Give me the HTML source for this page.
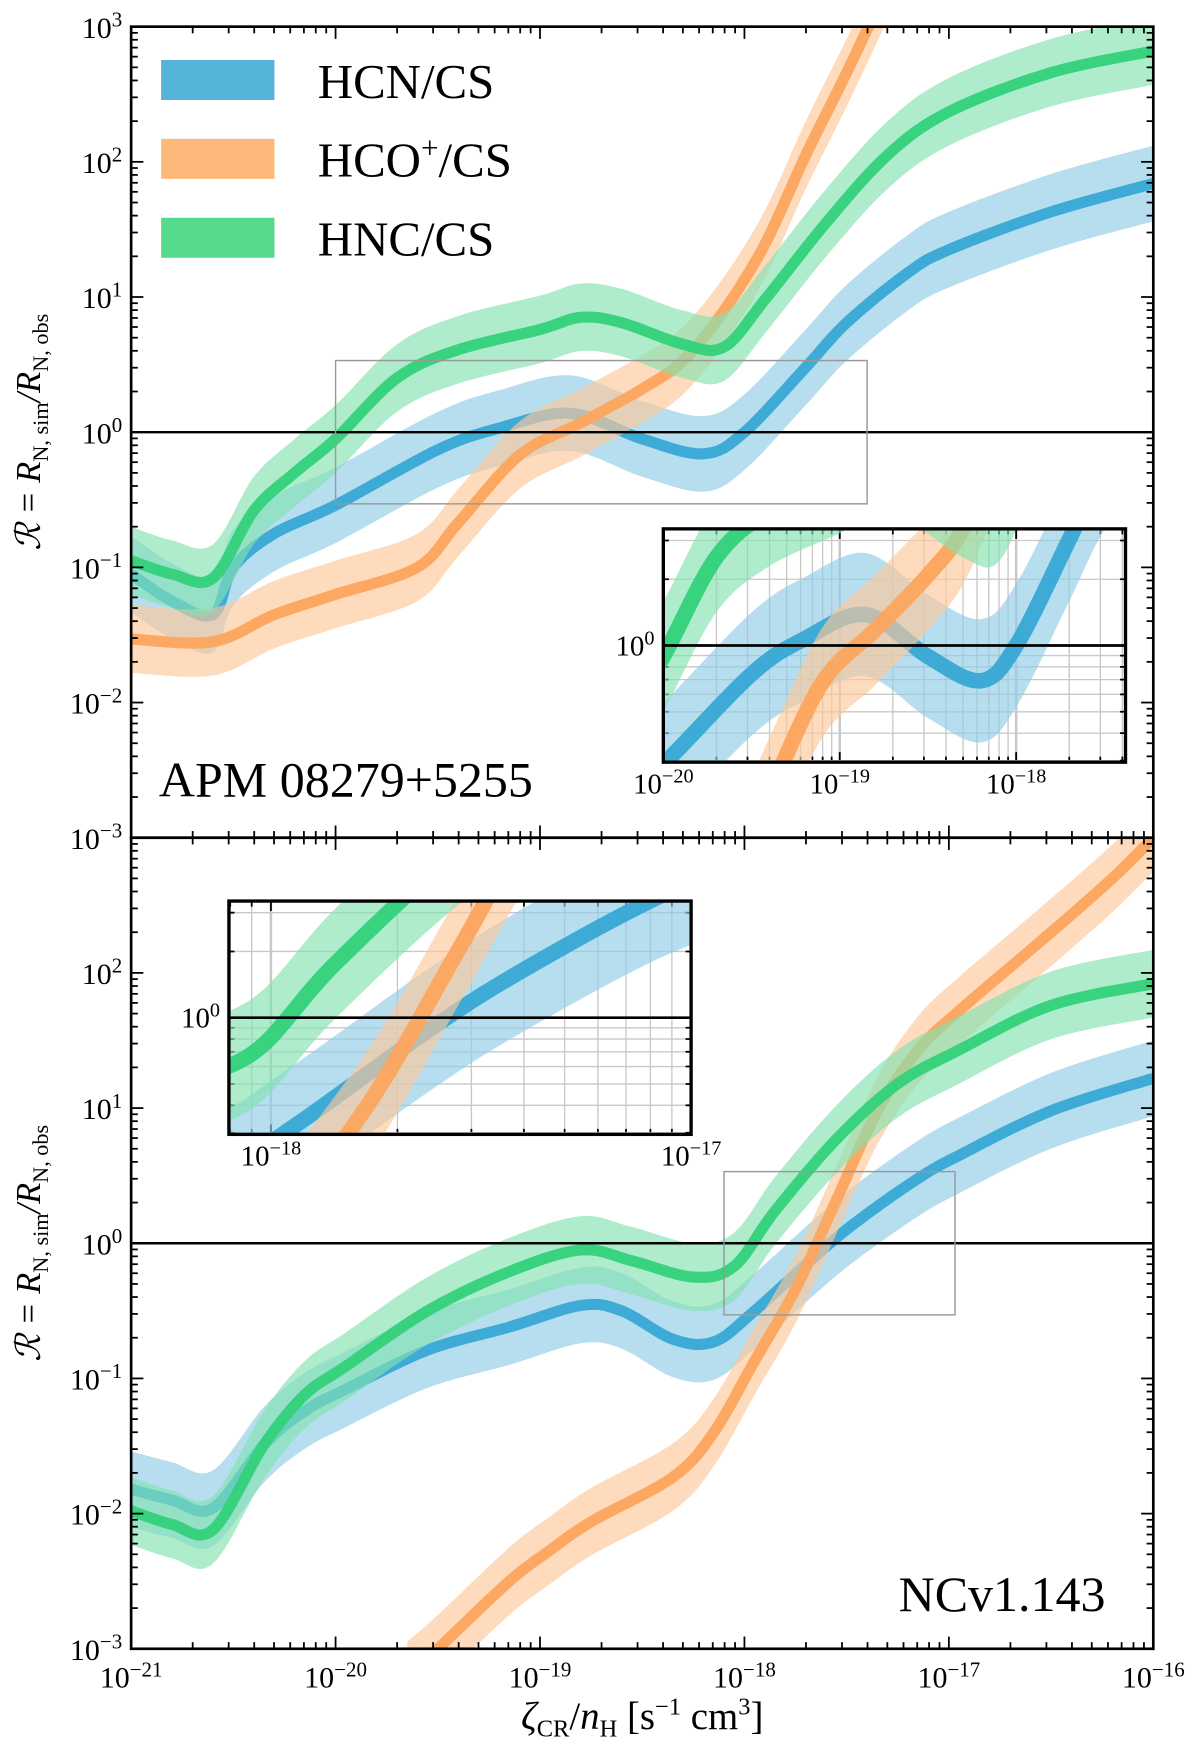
<!DOCTYPE html>
<html><head><meta charset="utf-8"><style>
html,body{margin:0;padding:0;background:#fff}
svg{display:block}
text{font-family:"Liberation Serif","DejaVu Serif",serif;fill:#000}
</style></head><body>
<svg id="fig" width="1200" height="1741" viewBox="0 0 1080 1567" xmlns="http://www.w3.org/2000/svg">
<defs>
<clipPath id="cTop"><rect x="118" y="24" width="920" height="730"/></clipPath>
<clipPath id="cBot"><rect x="118" y="754" width="920" height="730"/></clipPath>
<clipPath id="cIn1"><rect x="597" y="476" width="416" height="210"/></clipPath>
<clipPath id="cIn2"><rect x="206" y="811" width="416" height="210"/></clipPath>
</defs>
<g id="root"></g>
</svg>
<script>
// ---- data (log10 of zeta/nH and log10 of ratio) ----
const topX_hcn = [-21,-20.8,-20.6,-20.5,-20.3,-20,-19.5,-19.2,-18.85,-18.5,-18.2,-18,-17.7,-17.5,-17.2,-17,-16.5,-16];
const topY_hcn = [-1.05,-1.25,-1.35,-1.0,-0.75,-0.54,-0.13,0.03,0.14,-0.05,-0.16,0,0.48,0.81,1.18,1.35,1.63,1.84];
const topX_hco = [-21,-20.6,-20.3,-20,-19.6,-19.4,-19.1,-18.8,-18.5,-18.3,-18.1,-17.9,-17.7,-17.5,-17.3];
const topY_hco = [-1.53,-1.55,-1.35,-1.2,-1.0,-0.67,-0.17,0.07,0.32,0.53,0.9,1.39,2.05,2.66,3.3];
const topX_hnc = [-21,-20.8,-20.6,-20.4,-20.2,-20,-19.7,-19.4,-19,-18.8,-18.6,-18.3,-18.1,-17.9,-17.6,-17.3,-17,-16.5,-16];
const topY_hnc = [-0.95,-1.05,-1.08,-0.58,-0.3,-0.05,0.4,0.61,0.76,0.85,0.81,0.65,0.63,0.98,1.55,2.05,2.37,2.66,2.82];
const botX_hcn = [-21,-20.8,-20.6,-20.35,-20.15,-19.95,-19.55,-19.15,-18.8,-18.6,-18.35,-18.15,-17.95,-17.65,-17.45,-17.15,-16.95,-16.5,-16];
const botY_hcn = [-1.82,-1.9,-1.96,-1.49,-1.24,-1.08,-0.79,-0.62,-0.46,-0.5,-0.71,-0.73,-0.5,-0.09,0.16,0.48,0.65,0.98,1.22];
const botX_hco = [-19.65,-19.5,-19.15,-18.95,-18.75,-18.35,-18.15,-17.95,-17.75,-17.55,-17.35,-17.15,-16.95,-16.5,-16.2,-16];
const botY_hco = [-3.2,-3.0,-2.5,-2.27,-2.06,-1.73,-1.4,-0.87,-0.34,0.32,0.98,1.43,1.72,2.3,2.7,3.0];
const botX_hnc = [-21,-20.8,-20.6,-20.35,-20.15,-19.95,-19.55,-19.15,-18.8,-18.55,-18.25,-18.05,-17.85,-17.55,-17.25,-16.95,-16.5,-16];
const botY_hnc = [-1.98,-2.08,-2.12,-1.49,-1.12,-0.91,-0.5,-0.21,-0.05,-0.13,-0.25,-0.17,0.24,0.77,1.18,1.43,1.76,1.92];
const bandHalf = [0.28, 0.25, 0.25]; // hcn, hco, hnc
const xTicks = [-21,-20,-19,-18,-17,-16];
const yTicks = [-3,-2,-1,0,1,2,3];

const NS="http://www.w3.org/2000/svg";
const root=document.getElementById('root');
function el(tag,attrs,parent){const e=document.createElementNS(NS,tag);for(const k in attrs)e.setAttribute(k,attrs[k]);(parent||root).appendChild(e);return e;}
const COL={hcn:{line:"#38a6d4",band:"#8fcde6"},hco:{line:"#fca55e",band:"#fdc89a"},hnc:{line:"#33d17a",band:"#83e2b0"}};

function mkAxis(x0,x1,lx0,lx1,y0,y1,ly0,ly1){
  return {x:v=>x0+(v-lx0)/(lx1-lx0)*(x1-x0), y:v=>y0+(ly0-v)/(ly0-ly1)*(y1-y0)};
}
function catmull(pts){
  let d="M"+pts[0][0].toFixed(2)+","+pts[0][1].toFixed(2);
  for(let i=0;i<pts.length-1;i++){
    const p0=pts[Math.max(0,i-1)],p1=pts[i],p2=pts[i+1],p3=pts[Math.min(pts.length-1,i+2)];
    const c1=[p1[0]+(p2[0]-p0[0])/6,p1[1]+(p2[1]-p0[1])/6],c2=[p2[0]-(p3[0]-p1[0])/6,p2[1]-(p3[1]-p1[1])/6];
    d+="C"+c1.map(v=>v.toFixed(2)).join(",")+" "+c2.map(v=>v.toFixed(2)).join(",")+" "+p2[0].toFixed(2)+","+p2[1].toFixed(2);
  }
  return d;
}
function drawSeries(g,ax,xs,ys,half,col,name,lw){
  const up=xs.map((x,i)=>[ax.x(x),ax.y(ys[i]+half)]);
  const dn=xs.map((x,i)=>[ax.x(x),ax.y(ys[i]-half)]).reverse();
  const d=catmull(up)+" L"+catmull(dn).slice(1)+"Z";
  const b=el('path',{d:d,fill:col.band,'fill-opacity':0.65,stroke:'none'},g);
  
  
  const l=el('path',{d:catmull(xs.map((x,i)=>[ax.x(x),ax.y(ys[i])])),fill:'none',stroke:col.line,'stroke-width':lw,'stroke-opacity':0.95},g);
  
  
}
function sup(t,x,y,base,exp,size,anchor,name){
  const tx=el('text',{x:x,y:y,'font-size':size,'text-anchor':anchor||'middle'},t);
  
  
  const a=el('tspan',{},tx);a.textContent=base;
  const b=el('tspan',{dy:-size*0.38,'font-size':size*0.7},tx);b.textContent=exp;
  return tx;
}
function ticksFrame(g,ax,X0,X1,Y0,Y1,lxs,lys,big,grid){
  const M=big?11:9, m=big?6:5;
  for(let d=Math.floor(lxs[0]);d<=lxs[1];d++){
    for(let k=1;k<10;k++){const v=d+Math.log10(k);if(v<lxs[0]-1e-9||v>lxs[1]+1e-9)continue;const x=ax.x(v);const L=k==1?M:m;
      if(grid)el('line',{x1:x,x2:x,y1:Y0,y2:Y1,stroke:'#c8c8c8','stroke-width':k==1?2.2:1.2},g);
      el('line',{x1:x,x2:x,y1:Y1,y2:Y1-L,stroke:'#000','stroke-width':1.6},g);
      el('line',{x1:x,x2:x,y1:Y0,y2:Y0+L,stroke:'#000','stroke-width':1.6},g);}
  }
  for(let d=Math.floor(lys[0]);d<=lys[1];d++){
    for(let k=1;k<10;k++){const v=d+Math.log10(k);if(v<lys[0]-1e-9||v>lys[1]+1e-9)continue;const y=ax.y(v);const L=k==1?M:m;
      if(grid)el('line',{x1:X0,x2:X1,y1:y,y2:y,stroke:'#c8c8c8','stroke-width':1.2},g);
      el('line',{x1:X0,x2:X0+L,y1:y,y2:y,stroke:'#000','stroke-width':1.6},g);
      el('line',{x1:X1,x2:X1-L,y1:y,y2:y,stroke:'#000','stroke-width':1.6},g);}
  }
}
function drawAll(g,ax,top,lw){
  const S=top?[[topX_hcn,topY_hcn,'hcn'],[topX_hco,topY_hco,'hco'],[topX_hnc,topY_hnc,'hnc']]:[[botX_hcn,botY_hcn,'hcn'],[botX_hco,botY_hco,'hco'],[botX_hnc,botY_hnc,'hnc']];
  S.forEach((s,i)=>drawSeries(g,ax,s[0],s[1],bandHalf[i],COL[s[2]],s[2]+(top?'-top':'-bottom'),lw));
}
// ---------- main panels ----------
const panels=[{top:true,Y0:24,Y1:754,clip:'cTop'},{top:false,Y0:754,Y1:1484,clip:'cBot'}];
panels.forEach(p=>{
  const ax=mkAxis(118,1038,-21,-16,p.Y0,p.Y1,3,-3);
  const g=el('g',{});
  
  
  const gc=el('g',{'clip-path':'url(#'+p.clip+')'},g);
  drawAll(gc,ax,p.top,10);
  const ref=el('line',{x1:118,x2:1038,y1:ax.y(0),y2:ax.y(0),stroke:'#000','stroke-width':2.2},g);
  
  
  const r=p.top?[-20,-17.4]:[-18.1,-16.97];
  const zr=el('rect',{x:ax.x(r[0]),y:ax.y(0.53),width:ax.x(r[1])-ax.x(r[0]),height:ax.y(-0.53)-ax.y(0.53),fill:'none',stroke:'#999','stroke-width':1.3},g);
  
  
  ticksFrame(g,ax,118,1038,p.Y0,p.Y1,[-21,-16],[-3,3],true,false);
  el('rect',{x:118,y:p.Y0,width:920,height:730,fill:'none',stroke:'#000','stroke-width':2.4},g);
  yTicks.forEach(v=>{ if(!p.top && v==3) return; sup(g,110,ax.y(v)+10,'10',v<0?'−'+(-v):String(v),27,'end','y-tick-label');});
  if(!p.top) xTicks.forEach(v=>sup(g,ax.x(v),1519,'10','−'+(-v),27,'middle','x-tick-label'));
  const yl=el('text',{x:0,y:0,'font-size':31,'text-anchor':'middle',transform:'translate(36,'+((p.Y0+p.Y1)/2)+') rotate(-90)','font-style':'italic'},g);
  
  
  yl.innerHTML='ℛ = R<tspan dy="7" font-size="20" font-style="normal">N, sim</tspan><tspan dy="-7">/R</tspan><tspan dy="7" font-size="20" font-style="normal">N, obs</tspan>';
});
let t=el('text',{x:143,y:717,'font-size':45});t.textContent='APM 08279+5255';

t=el('text',{x:995,y:1450,'font-size':45,'text-anchor':'end'});t.textContent='NCv1.143';

t=el('text',{x:578,y:1556,'font-size':35,'text-anchor':'middle'});
t.innerHTML='<tspan font-style="italic">ζ</tspan><tspan dy="7" font-size="22">CR</tspan><tspan dy="-7">/</tspan><tspan font-style="italic">n</tspan><tspan dy="7" font-size="22">H</tspan><tspan dy="-7"> [s</tspan><tspan dy="-13" font-size="22">−1</tspan><tspan dy="13"> cm</tspan><tspan dy="-13" font-size="22">3</tspan><tspan dy="13">]</tspan>';

const leg=el('g',{});
[['hcn','#56b4d9','HCN/CS',null],['hco','#feb97a','HCO','+'],['hnc','#55d98d','HNC/CS',null]].forEach((e,i)=>{
  const y=54+i*71;
  const r=el('rect',{x:145,y:y,width:102,height:36,fill:e[1]},leg);
  
  const tx=el('text',{x:286,y:y+34,'font-size':44},leg);
  
  if(e[3]){tx.innerHTML='HCO<tspan dy="-17" font-size="28">+</tspan><tspan dy="17">/CS</tspan>';}else tx.textContent=e[2];
});
const insets=[{X0:597,X1:1013,Y0:476,Y1:686,lx:[-20,-17.38],top:true,clip:'cIn1',lbl:[-20,-19,-18]},
              {X0:206,X1:622,Y0:811,Y1:1021,lx:[-18.1,-17.0],top:false,clip:'cIn2',lbl:[-18,-17]}];
insets.forEach(q=>{
  const ax=mkAxis(q.X0,q.X1,q.lx[0],q.lx[1],q.Y0,q.Y1,0.53,-0.53);
  const g=el('g',{});
  
  
  el('rect',{x:q.X0,y:q.Y0,width:q.X1-q.X0,height:q.Y1-q.Y0,fill:'#fff'},g);
  const gg=el('g',{'clip-path':'url(#'+q.clip+')'},g);
  ticksFrame(gg,ax,q.X0,q.X1,q.Y0,q.Y1,q.lx,[-0.53,0.53],false,true);
  drawAll(gg,ax,q.top,14);
  el('line',{x1:q.X0,x2:q.X1,y1:ax.y(0),y2:ax.y(0),stroke:'#000','stroke-width':2.4},g);
  el('rect',{x:q.X0,y:q.Y0,width:q.X1-q.X0,height:q.Y1-q.Y0,fill:'none',stroke:'#000','stroke-width':3},g);
  sup(g,q.X0-8,ax.y(0)+9,'10','0',26,'end','inset-y-tick-label');
  q.lbl.forEach(v=>sup(g,Math.max(ax.x(v),q.X0),q.Y1+28,'10','−'+(-v),26,'middle','inset-x-tick-label'));
});
</script>
</body></html>
